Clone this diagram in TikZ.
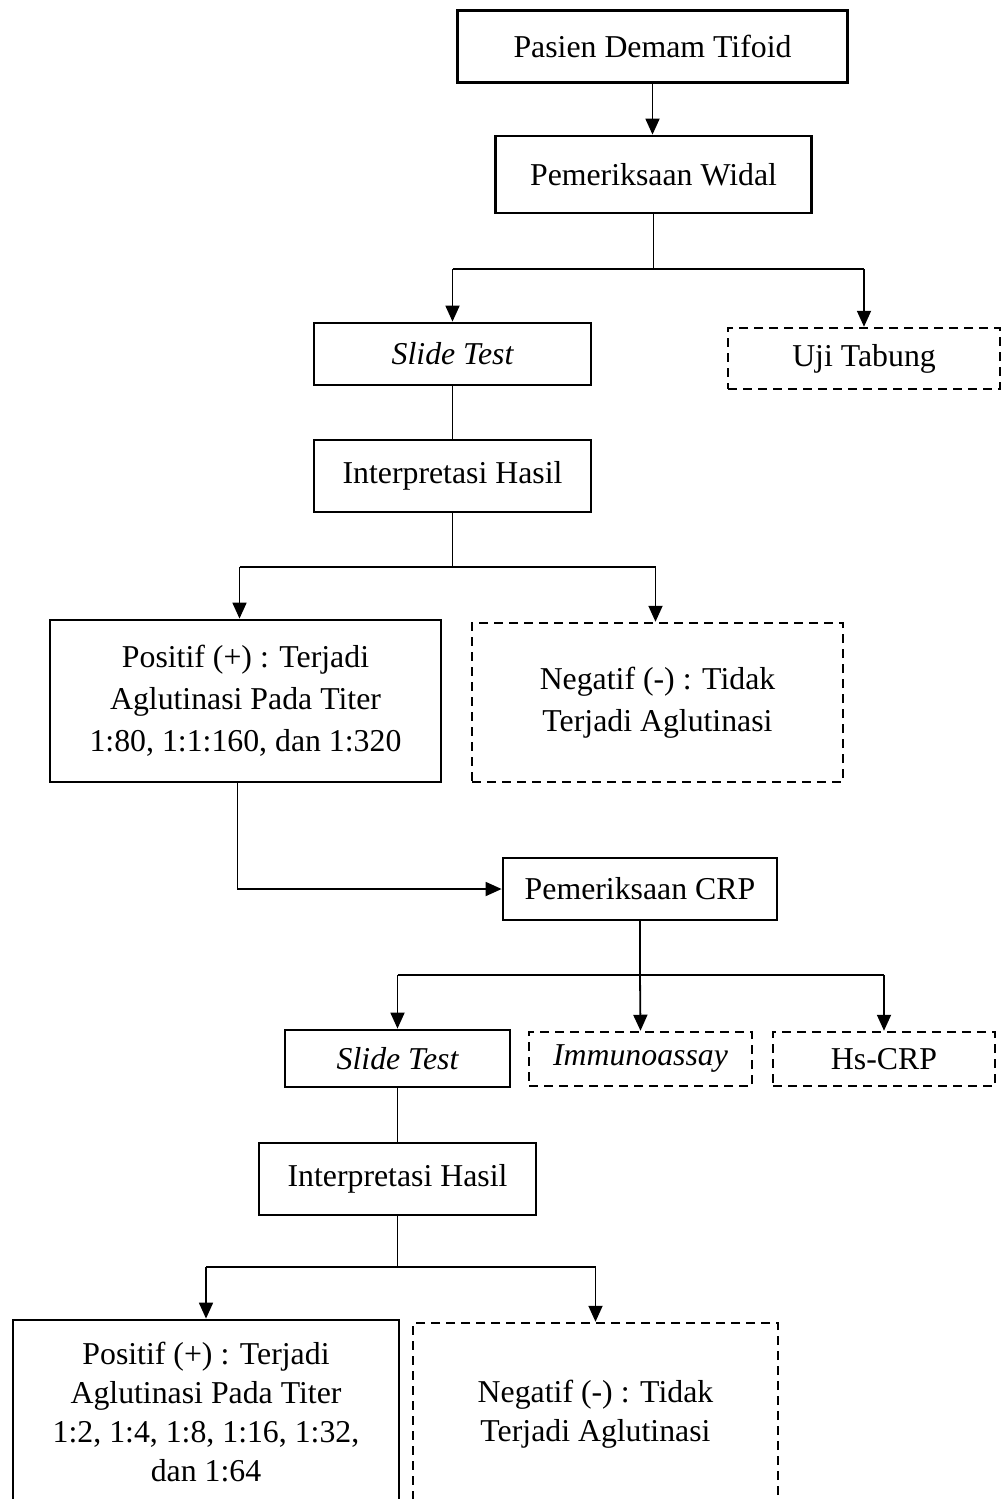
\documentclass[tikz,border=0pt]{standalone}
\usepackage{fontspec}
\setmainfont{Liberation Serif}
\usetikzlibrary{arrows.meta}
\tikzset{
  box/.style={draw, line width=2.8pt, inner sep=0pt, align=center, font=\fontsize{31.8}{42}\selectfont},
  dbox/.style={box, line width=2.5pt, dash pattern=on 9pt off 6pt},
  conn/.style={line width=1.8pt},
  arr/.style={conn, -{Triangle[length=16pt,width=14pt]}}
}
\begin{document}
\begin{tikzpicture}[x=1pt,y=-1pt]
\useasboundingbox (0,0) rectangle (1001,1499);
\clip (0,0) rectangle (1001,1499);
\node[box, minimum width=390pt, minimum height=72pt] (p1) at (652.5,46.5) {Pasien Demam Tifoid};
\node[box, minimum width=316pt, minimum height=77pt] (p2) at (653.5,174.5) {Pemeriksaan Widal};
\node[box, minimum width=277pt, minimum height=62pt] (st1) at (452.5,354) {\itshape Slide Test};
\node[dbox, minimum width=272pt, minimum height=61pt] (ut) at (864,358.5) {Uji Tabung};
\node[box, minimum width=277pt, minimum height=72pt] (ih1) at (452.5,476) {Interpretasi Hasil};
\node[box, minimum width=391pt, minimum height=162pt] (pos1) at (245.5,701) {Positif (+) : Terjadi\\Aglutinasi Pada Titer\\1:80, 1:1:160, dan 1:320};
\node[dbox, minimum width=371pt, minimum height=159pt] (neg1) at (657.5,702.5) {Negatif (-) : Tidak\\Terjadi Aglutinasi};
\node[box, minimum width=274pt, minimum height=62pt] (crp) at (640,889) {Pemeriksaan CRP};
\node[box, minimum width=225pt, minimum height=57pt] (st2) at (397.5,1058.5) {\itshape Slide Test};
\node[dbox, minimum width=223pt, minimum height=54pt] (imm) at (640.5,1059) {\itshape Immunoassay};
\node[dbox, minimum width=222pt, minimum height=54pt] (hs) at (884,1059) {Hs-CRP};
\node[box, minimum width=277pt, minimum height=72pt] (ih2) at (397.5,1179) {Interpretasi Hasil};
\node[box, minimum width=386pt, minimum height=185pt, font=\fontsize{31.8}{39}\selectfont] (pos2) at (206,1412.5) {Positif (+) : Terjadi\\Aglutinasi Pada Titer\\1:2, 1:4, 1:8, 1:16, 1:32,\\dan 1:64};
\node[dbox, minimum width=365pt, minimum height=182pt, font=\fontsize{31.8}{39}\selectfont] (neg2) at (595.5,1414) {Negatif (-) : Tidak\\Terjadi Aglutinasi};
% connectors
\coordinate (s1) at (653.5,269);
\coordinate (s2) at (452.5,567);
\coordinate (s3) at (640,975);
\coordinate (s4) at (397.5,1267);
\coordinate (pos1in) at ([xshift=-6pt]pos1.north);
\coordinate (neg1in) at ([xshift=-2pt]neg1.north);
\coordinate (pos1out) at ([xshift=-8pt]pos1.south);
\draw[arr] (p1.south) -- (p1.south |- p2.north);
\draw[conn] (p2.south) -- (s1);
\draw[conn] (s1 -| st1.north) -- (s1 -| ut.north);
\draw[arr] (s1 -| st1.north) -- (st1.north);
\draw[arr] (s1 -| ut.north) -- (ut.north);
\draw[conn] (st1.south) -- (ih1.north);
\draw[conn] (ih1.south) -- (s2);
\draw[conn] (s2 -| pos1in) -- (s2 -| neg1in);
\draw[arr] (s2 -| pos1in) -- (pos1in);
\draw[arr] (s2 -| neg1in) -- (neg1in);
\draw[arr] (pos1out) |- (crp.west);
\draw[conn] (crp.south) -- (s3);
\draw[conn] (s3 -| st2.north) -- (s3 -| hs.north);
\draw[arr] (s3 -| st2.north) -- (st2.north);
\draw[arr] (s3) -- (imm.north);
\draw[arr] (s3 -| hs.north) -- (hs.north);
\draw[conn] (st2.south) -- (ih2.north);
\draw[conn] (ih2.south) -- (s4);
\draw[conn] (s4 -| pos2.north) -- (s4 -| neg2.north);
\draw[arr] (s4 -| pos2.north) -- (pos2.north);
\draw[arr] (s4 -| neg2.north) -- (neg2.north);
\end{tikzpicture}
\end{document}
